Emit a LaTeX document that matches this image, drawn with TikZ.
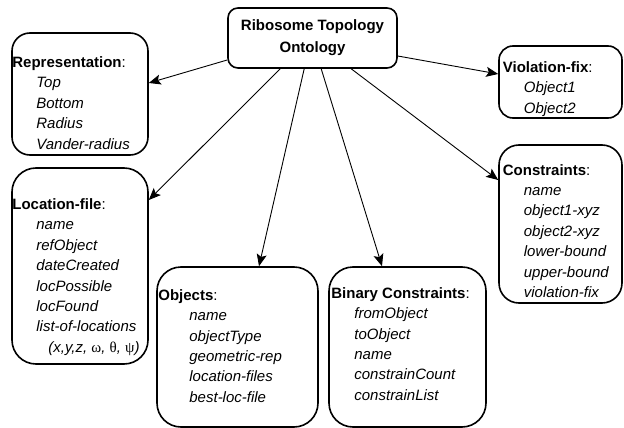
\documentclass[tikz,border=0pt]{standalone}
\usepackage{fontspec}
\setmainfont{Liberation Sans}
\newfontfamily\greekfont{Liberation Serif}
\usetikzlibrary{arrows.meta}

\begin{document}
\begin{tikzpicture}[x=1pt,y=-1pt,
  box/.style={draw, line width=1.6pt, rounded corners=#1, inner sep=0pt},
  box/.default=20pt,
  txt/.style={anchor=west, align=left, inner sep=0pt,
    font=\fontsize{15}{20.4}\selectfont},
  arr/.style={-{Stealth[length=12pt,width=10pt,inset=2.5pt]}, line width=0.9pt},
]
\useasboundingbox (0,0) rectangle (624,428);

% root concept
\node[box=10pt, minimum width=169pt, minimum height=60pt, align=center,
  font=\fontsize{15}{22}\selectfont\bfseries] (root) at (312.5,38)
  {Ribosome Topology\\Ontology};

% class boxes
\node[box=18pt, minimum width=136pt, minimum height=122pt] (rep) at (80,94) {};
\node[txt] (reptxt) at ([xshift=1pt,yshift=-9pt]rep.west)
  {\textbf{Representation}:\\
   \hspace*{24pt}\textit{Top}\\
   \hspace*{24pt}\textit{Bottom}\\
   \hspace*{24pt}\textit{Radius}\\
   \hspace*{24pt}\textit{Vander-radius}};

\node[box=24pt, minimum width=136pt, minimum height=196pt] (loc) at (80,266) {};
\node[txt] (loctxt) at ([xshift=1pt,yshift=-11pt]loc.west)
  {\textbf{Location-file}:\\
   \hspace*{24pt}\textit{name}\\
   \hspace*{24pt}\textit{refObject}\\
   \hspace*{24pt}\textit{dateCreated}\\
   \hspace*{24pt}\textit{locPossible}\\
   \hspace*{24pt}\textit{locFound}\\
   \hspace*{24pt}\textit{list-of-locations}\\
   \hspace*{36pt}\textit{(x,y,z, {\upshape\greekfont ω}, {\upshape\greekfont θ}, {\upshape\greekfont ψ})}};

\node[box=24pt, minimum width=161pt, minimum height=160pt] (obj) at (237.5,347) {};
\node[txt] (objtxt) at ([xshift=2pt,yshift=1pt]obj.west)
  {\textbf{Objects}:\\
   \hspace*{31pt}\textit{name}\\
   \hspace*{31pt}\textit{objectType}\\
   \hspace*{31pt}\textit{geometric-rep}\\
   \hspace*{31pt}\textit{location-files}\\
   \hspace*{31pt}\textit{best-loc-file}};

\node[box=24pt, minimum width=157pt, minimum height=160pt] (bin) at (407.5,347) {};
\node[txt] (bintxt) at ([xshift=3pt,yshift=3pt]bin.west)
  {\textbf{Binary Constraints}:\\
   \hspace*{23pt}\textit{fromObject}\\
   \hspace*{23pt}\textit{toObject}\\
   \hspace*{23pt}\textit{name}\\
   \hspace*{23pt}\textit{constrainCount}\\
   \hspace*{23pt}\textit{constrainList}};

\node[box=20pt, minimum width=123pt, minimum height=158pt] (con) at (560.5,224) {};
\node[txt] (contxt) at ([xshift=4.5pt,yshift=-7pt]con.west)
  {\textbf{Constraints}:\\
   \hspace*{21pt}\textit{name}\\
   \hspace*{21pt}\textit{object1-xyz}\\
   \hspace*{21pt}\textit{object2-xyz}\\
   \hspace*{21pt}\textit{lower-bound}\\
   \hspace*{21pt}\textit{upper-bound}\\
   \hspace*{21pt}\textit{violation-fix}};

\node[box=14pt, minimum width=123pt, minimum height=72pt] (vio) at (560.5,82) {};
\node[txt] (viotxt) at ([xshift=4.5pt,yshift=-7pt]vio.west)
  {\textbf{Violation-fix}:\\
   \hspace*{21pt}\textit{Object1}\\
   \hspace*{21pt}\textit{Object2}};

% connectors from the root concept
\draw[arr] ([yshift=-22pt]root.west) -- ([yshift=11pt]rep.east);
\draw[arr] ([xshift=53pt]root.south west) -- ([yshift=66pt]loc.east);
\draw[arr] ([xshift=77pt]root.south west) -- ([xshift=21.5pt]obj.north);
\draw[arr] ([xshift=94pt]root.south west) -- ([xshift=-25.5pt]bin.north);
\draw[arr] ([xshift=124pt]root.south west) -- ([yshift=44pt]con.west);
\draw[arr] ([yshift=-18pt]root.east) -- ([yshift=8pt]vio.west);
\end{tikzpicture}
\end{document}
